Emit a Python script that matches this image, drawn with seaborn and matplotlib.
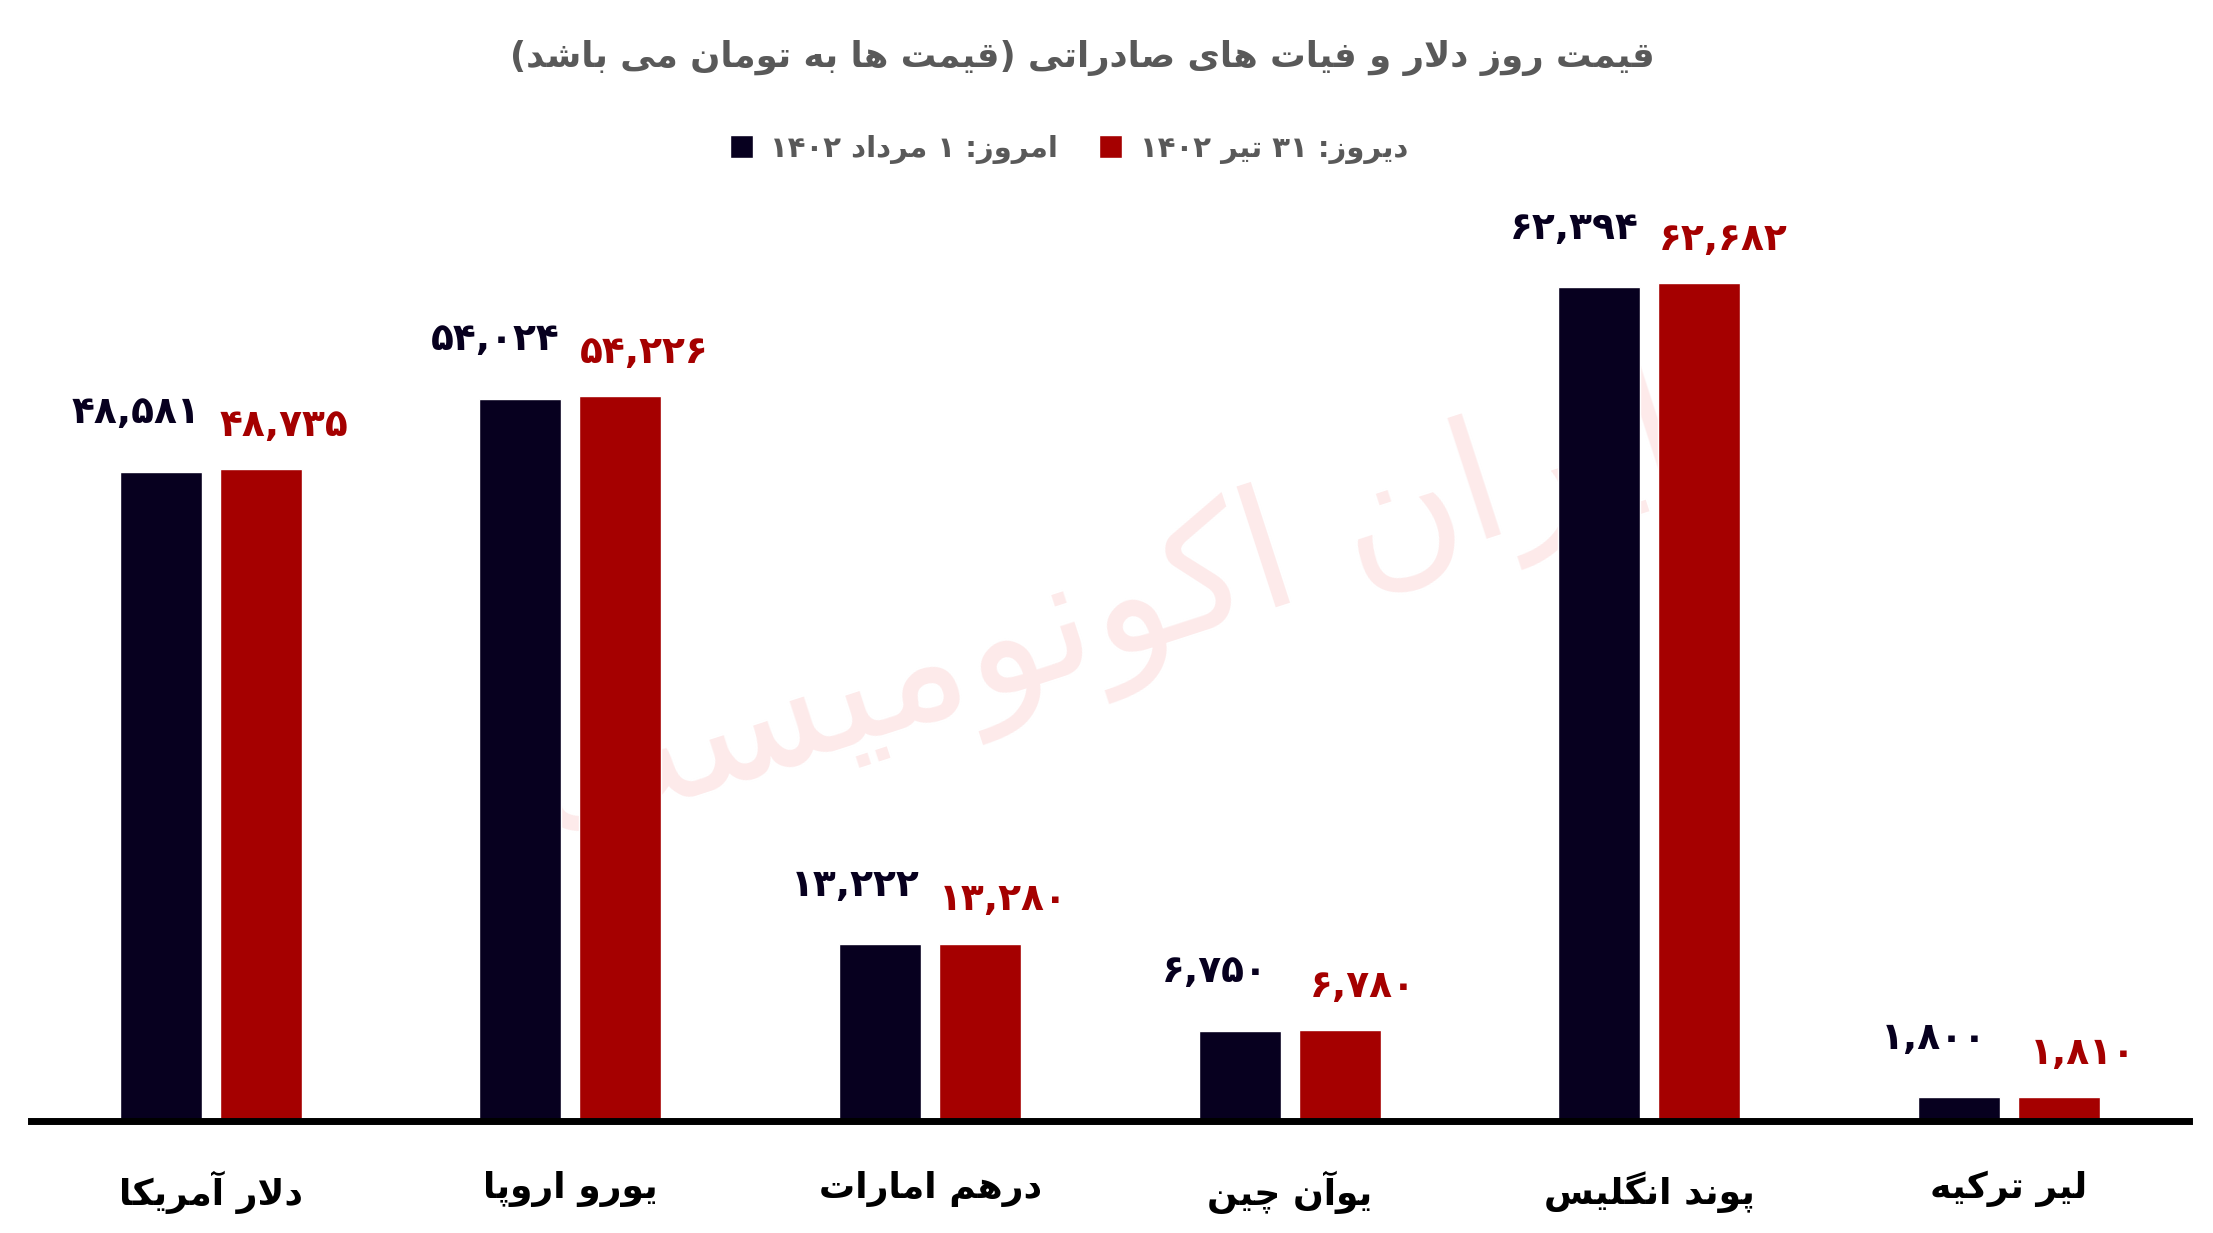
import re
import numpy as np
import pandas as pd
import seaborn as sns
import matplotlib.pyplot as plt

# chart data
categories = ["دلار آمریکا", "یورو اروپا", "درهم امارات", "یوآن چین", "پوند انگلیس", "لیر ترکیه"]
today_label = "امروز: ۱ مرداد ۱۴۰۲"
yesterday_label = "دیروز: ۳۱ تیر ۱۴۰۲"
today_values = [48581, 54024, 13222, 6750, 62394, 1800]
yesterday_values = [48735, 54226, 13280, 6780, 62682, 1810]
title = "قیمت روز دلار و فیات های صادراتی (قیمت ها به تومان می باشد)"
watermark = "ایران اکونومیست"

DARK = "#07001f"
RED = "#a50000"
GREY = "#595959"

# --- minimal Persian shaping (matplotlib has no complex text layout) ---
# letter -> (isolated form codepoint, number of forms)
FORMS = {
    "ا": (0xFE8D, 2), "آ": (0xFE81, 2), "د": (0xFEA9, 2), "ذ": (0xFEAB, 2),
    "ر": (0xFEAD, 2), "ز": (0xFEAF, 2), "ژ": (0xFB8A, 2), "و": (0xFEED, 2),
    "ب": (0xFE8F, 4), "پ": (0xFB56, 4), "ت": (0xFE95, 4), "ث": (0xFE99, 4),
    "ج": (0xFE9D, 4), "چ": (0xFB7A, 4), "ح": (0xFEA1, 4), "خ": (0xFEA5, 4),
    "س": (0xFEB1, 4), "ش": (0xFEB5, 4), "ص": (0xFEB9, 4), "ض": (0xFEBD, 4),
    "ط": (0xFEC1, 4), "ظ": (0xFEC5, 4), "ع": (0xFEC9, 4), "غ": (0xFECD, 4),
    "ف": (0xFED1, 4), "ق": (0xFED5, 4), "ک": (0xFB8E, 4), "گ": (0xFB92, 4),
    "ل": (0xFEDD, 4), "م": (0xFEE1, 4), "ن": (0xFEE5, 4), "ه": (0xFEE9, 4),
    "ی": (0xFBFC, 4),
}
LAM_ALEF = {"ا": (0xFEFB, 0xFEFC), "آ": (0xFEF5, 0xFEF6)}
DIGITS = str.maketrans("0123456789", "۰۱۲۳۴۵۶۷۸۹")


def shape(text):
    out = []
    i = 0
    n = len(text)
    while i < n:
        ch = text[i]
        if ch not in FORMS:
            out.append(ch)
            i += 1
            continue
        prev = text[i - 1] if i > 0 else ""
        join_prev = prev in FORMS and FORMS[prev][1] == 4
        if ch == "ل" and i + 1 < n and text[i + 1] in LAM_ALEF:
            iso, fin = LAM_ALEF[text[i + 1]]
            out.append(chr(fin if join_prev else iso))
            i += 2
            continue
        base, nf = FORMS[ch]
        nxt = text[i + 1] if i + 1 < n else ""
        join_next = nf == 4 and nxt in FORMS
        if join_prev and join_next:
            cp = base + 3
        elif join_prev:
            cp = base + 1
        elif join_next:
            cp = base + 2
        else:
            cp = base
        out.append(chr(cp))
        i += 1
    return "".join(out)


def rtl(text):
    shaped = shape(text)
    runs = re.split(r"([0-9۰-۹,]+)", shaped)
    vis = []
    for r in reversed(runs):
        if re.fullmatch(r"[0-9۰-۹,]+", r):
            vis.append(r)
        else:
            vis.append(r[::-1].translate(str.maketrans("()", ")(")))
    return "".join(vis)


def fa_num(v):
    return f"{v:,}".translate(DIGITS)


df = pd.DataFrame({
    "category": categories * 2,
    "series": [today_label] * len(categories) + [yesterday_label] * len(categories),
    "value": today_values + yesterday_values,
})

sns.set_style("white")
plt.rcParams["font.family"] = ["DejaVu Sans"]

fig = plt.figure(figsize=(22.13, 12.33), dpi=100)
ax = fig.add_axes([0.014, 0.0908, 0.975, 0.759])

sns.barplot(
    data=df, x="category", y="value", hue="series",
    order=categories, hue_order=[today_label, yesterday_label],
    palette=[DARK, RED], saturation=1, width=0.556, gap=0.18,
    ax=ax, legend=True,
)

ax.set_xlim(-0.5, 5.5)
ax.set_ylim(0, 70000)
ax.set_xlabel("")
ax.set_ylabel("")
ax.set_yticks([])
ax.set_xticks(range(len(categories)))
ax.set_xticklabels([rtl(c) for c in categories], fontsize=26, fontweight="bold", color="black")
ax.tick_params(axis="x", length=0, pad=36)
for s in ["top", "left", "right"]:
    ax.spines[s].set_visible(False)
ax.spines["bottom"].set_linewidth(5)
ax.spines["bottom"].set_color("black")

# value labels above the bars
offsets = [(-18, 42), (17, 31)]
colors = [DARK, RED]
for cont, (dx, dy), col in zip(ax.containers, offsets, colors):
    for bar in cont:
        h = bar.get_height()
        ax.annotate(fa_num(int(round(h))), xy=(bar.get_x() + bar.get_width() / 2, h),
                    xytext=(dx, dy), textcoords="offset points",
                    ha="center", va="center", fontsize=27, fontweight="bold", color=col)

# faint watermark
ax.text(0.5, 0.5, rtl(watermark), transform=fig.transFigure, ha="center", va="center",
        fontsize=120, color="#fdeaea", rotation=18, zorder=0.5)

handles, labels = ax.get_legend_handles_labels()
ax.get_legend().remove()
fig.legend(handles, [rtl(l) for l in labels], loc="center", bbox_to_anchor=(0.483, 0.879),
           ncol=2, frameon=False, prop={"size": 21, "weight": "bold"}, labelcolor=GREY,
           handlelength=0.8, handleheight=0.8, handletextpad=0.6, columnspacing=1.4)

fig.text(0.489, 0.953, rtl(title), ha="center", va="center", fontsize=25.5,
         fontweight="bold", color=GREY)

fig.savefig("out.png", dpi=100)
plt.close(fig)
